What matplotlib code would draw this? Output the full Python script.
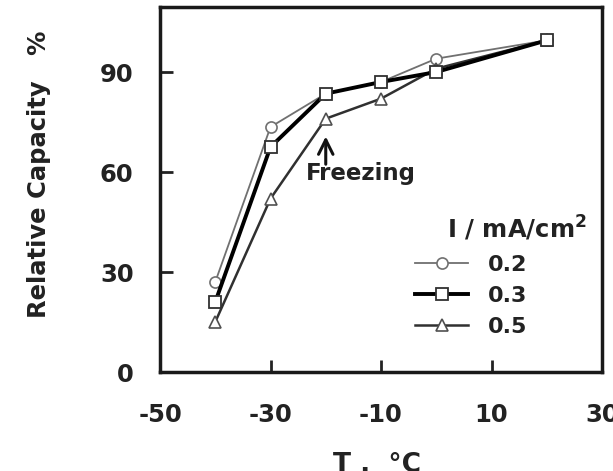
import matplotlib
matplotlib.use("Agg")
import matplotlib.pyplot as plt

plt.rcParams['font.family'] = ['DejaVu Sans']
plt.rcParams['font.weight'] = 'bold'
plt.rcParams['axes.unicode_minus'] = False

# temperature, degC
temps = [-40, -30, -20, -10, 0, 20]

# relative capacity (%) for each current density
cap_02 = [27, 73.5, 83.5, 87, 94, 99.5]
cap_03 = [21, 67.5, 83.5, 87, 90, 99.5]
cap_05 = [15, 52, 76, 82, 91, 99.5]

labels = ["0.2", "0.3", "0.5"]
x_ticks = [-50, -30, -10, 10, 30]
y_ticks = [0, 30, 60, 90]

W, H = 613, 471
fig = plt.figure(figsize=(W / 100, H / 100), dpi=100)
ax = fig.add_axes([160 / W, 1 - 372 / H, 442 / W, 365 / H])

ax.plot(temps, cap_02, color="#707070", lw=1.3, marker="o", ms=8,
        mfc="white", mec="#707070", mew=1.2, label=labels[0], zorder=3)
ax.plot(temps, cap_03, color="black", lw=2.8, marker="s", ms=9,
        mfc="white", mec="#303030", mew=1.3, label=labels[1], zorder=4)
ax.plot(temps, cap_05, color="#303030", lw=1.8, marker="^", ms=9,
        mfc="white", mec="#505050", mew=1.2, label=labels[2], zorder=3)

ax.set_xlim(-50, 30)
ax.set_ylim(0, 109.5)
ax.set_xticks(x_ticks)
ax.set_yticks(y_ticks)
ax.tick_params(direction="in", length=9, width=2, labelsize=17.5,
               colors="#222222")
ax.tick_params(axis="x", pad=22)
ax.tick_params(axis="y", pad=19)
for s in ax.spines.values():
    s.set_linewidth(2.5)
    s.set_color("#1a1a1a")

ax.set_ylabel("Relative Capacity   %", fontsize=17.5, fontweight="bold",
              color="#222222")
ax.yaxis.set_label_coords((39 - 160) / 442, (372 - 174) / 365)
ax.yaxis.label.set_va("center")
ax.set_xlabel("T ,  °C", fontsize=19, fontweight="bold", color="#222222")
ax.xaxis.set_label_coords((377 - 160) / 442, -(452 - 372) / 365)
ax.xaxis.label.set_va("top")

# freezing marker
ax.annotate("", xy=(-20, 71.5), xytext=(-20, 61.5),
            arrowprops=dict(arrowstyle="->", lw=2.2, color="#111111",
                            mutation_scale=26))
ax.text(-13.6, 59.5, "Freezing", fontsize=16.5, fontweight="bold",
        ha="center", va="center", color="#222222")

# legend: title as a separate text, entries below it
ax.text((587 - 160) / 442, (372 - 228) / 365, "I / mA/cm$^\\mathbf{2}$",
        transform=ax.transAxes, fontsize=17.5, fontweight="bold",
        ha="right", va="center", color="#222222")
leg = ax.legend(loc="upper left",
                bbox_to_anchor=((415 - 160) / 442, (372 - 255) / 365),
                frameon=False, fontsize=16, borderpad=0, borderaxespad=0,
                handlelength=2.4, handletextpad=0.9, labelspacing=0.5)
for t in leg.get_texts():
    t.set_color("#222222")

fig.savefig("out.png", dpi=100)
